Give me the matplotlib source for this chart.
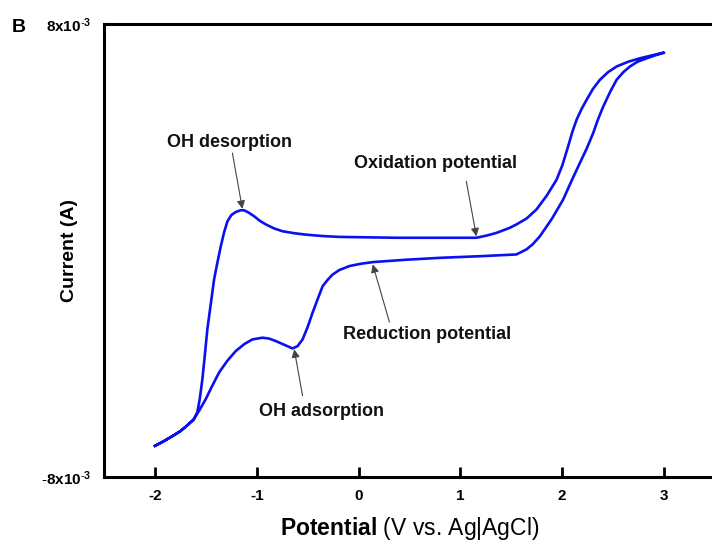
import matplotlib.pyplot as plt

plt.rcParams['font.family'] = ['Liberation Sans', 'DejaVu Sans']
plt.rcParams['mathtext.fontset'] = 'custom'
plt.rcParams['mathtext.rm'] = 'Liberation Sans'
plt.rcParams['mathtext.bf'] = 'Liberation Sans:bold'

# forward scan, -2 V -> 3 V (current in mA, i.e. x10^-3 A)
fwd_v = [-2.00, -1.92, -1.83, -1.75, -1.68, -1.62, -1.584, -1.56, -1.534,
         -1.51, -1.485, -1.45, -1.419, -1.385, -1.353, -1.32, -1.288, -1.25,
         -1.206, -1.16, -1.124, -1.08, -1.026, -0.97, -0.910, -0.83, -0.747,
         -0.63, -0.517, -0.35, -0.189, 0.369, 1.157, 1.26, 1.353, 1.484,
         1.550, 1.65, 1.747, 1.85, 1.944, 2.00, 2.058, 2.10, 2.141, 2.19,
         2.239, 2.30, 2.370, 2.45, 2.534, 2.65, 2.764, 2.88, 3.00]
fwd_i = [-6.90, -6.75, -6.56, -6.38, -6.17, -5.97, -5.72, -5.25, -4.55,
         -3.70, -2.78, -1.85, -1.02, -0.40, 0.15, 0.65, 1.03, 1.25,
         1.36, 1.42, 1.42, 1.34, 1.21, 1.05, 0.92, 0.78, 0.68,
         0.61, 0.56, 0.51, 0.48, 0.45, 0.45, 0.53, 0.62, 0.80,
         0.92, 1.13, 1.45, 1.95, 2.50, 3.00, 3.68, 4.20, 4.62, 5.00,
         5.32, 5.70, 6.03, 6.30, 6.50, 6.67, 6.79, 6.89, 6.99]

# reverse scan, 3 V -> -2 V
rev_v = [3.00, 2.91, 2.83, 2.74, 2.665, 2.60, 2.534, 2.47, 2.403, 2.35,
         2.304, 2.24, 2.173, 2.09, 2.009, 1.90, 1.780, 1.71, 1.649, 1.583,
         1.550, 1.20, 0.795, 0.45, 0.139, 0.02, -0.091, -0.189, -0.255,
         -0.30, -0.353, -0.40, -0.452, -0.50, -0.550, -0.60, -0.649, -0.73,
         -0.812, -0.88, -0.944, -1.042, -1.12, -1.206, -1.29, -1.370, -1.44,
         -1.501, -1.56, -1.62, -1.68, -1.75, -1.83, -1.92, -2.00]
rev_i = [6.99, 6.89, 6.79, 6.67, 6.50, 6.30, 6.03, 5.60, 5.09, 4.62,
         4.15, 3.60, 3.09, 2.45, 1.80, 1.13, 0.50, 0.22, 0.04, -0.08,
         -0.14, -0.20, -0.26, -0.33, -0.41, -0.47, -0.55, -0.69, -0.85,
         -1.02, -1.26, -1.70, -2.20, -2.70, -3.14, -3.38, -3.46, -3.33,
         -3.20, -3.11, -3.08, -3.14, -3.30, -3.55, -3.90, -4.31, -4.80,
         -5.25, -5.62, -5.97, -6.17, -6.38, -6.56, -6.75, -6.90]

# label text, label centre, arrow tail, arrow tip
notes = [
    ('OH desorption', (-1.272, 3.80), (-1.239, 3.44), (-1.141, 1.47)),
    ('Oxidation potential', (0.756, 3.07), (1.058, 2.44), (1.157, 0.50)),
    ('Reduction potential', (0.672, -2.96), (0.303, -2.53), (0.139, -0.49)),
    ('OH adsorption', (-0.369, -5.70), (-0.550, -5.13), (-0.632, -3.49)),
]

fig = plt.figure(figsize=(7.12, 5.44), dpi=100)
ax = fig.add_axes([104/712, 1 - 477/544, 611/712, 453/544])

ax.plot(fwd_v + rev_v, fwd_i + rev_i, color='#0a10f0', lw=1.9,
        solid_joinstyle='round')

for txt, pos, tail, tip in notes:
    ax.text(pos[0], pos[1], txt, ha='center', va='center',
            fontsize=13, fontweight='bold', color='#111111')
    ax.annotate('', xy=tip, xytext=tail,
                arrowprops=dict(arrowstyle='-|>', color='#444444', lw=0.8,
                                mutation_scale=12, shrinkA=0, shrinkB=0))

ax.set_xlim(-2.5, 3.5)
ax.set_ylim(-8, 8)
ax.set_xticks([-2, -1, 0, 1, 2, 3])
ax.set_xticklabels(['-2', '-1', '0', '1', '2', '3'], fontweight='bold')
ax.set_yticks([-8, 8])
ax.set_yticklabels([r'$\mathbf{\text{-}8x10^{\text{-}3}}$', r'$\mathbf{8x10^{\text{-}3}}$'])
ax.tick_params(axis='x', direction='in', length=7, width=2, labelsize=11, pad=9)
ax.tick_params(axis='y', length=0, labelsize=11, pad=9)

for s in ['left', 'bottom', 'top']:
    ax.spines[s].set_linewidth(2.2)
ax.spines['right'].set_visible(False)

ax.set_xlabel(r'$\mathbf{Potential}$ (V vs. Ag|AgCl)', fontsize=16.5, labelpad=8)
ax.set_ylabel('Current (A)', fontsize=14, fontweight='bold')
ax.yaxis.set_label_coords(-0.042, 0.5)

fig.text(12/712, 1 - 28/544, 'B', fontsize=14, fontweight='bold', va='center')

fig.savefig('out.png', dpi=100)
